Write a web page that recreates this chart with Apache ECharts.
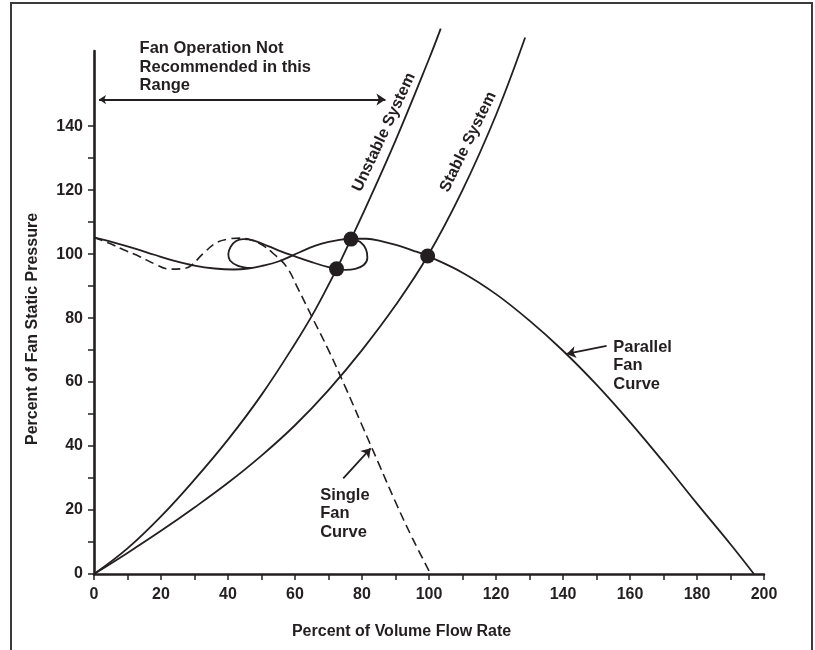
<!DOCTYPE html>
<html>
<head>
<meta charset="utf-8">
<script src="https://cdn.jsdelivr.net/npm/echarts@6/dist/echarts.min.js"></script>
<style>
html,body{margin:0;padding:0;background:#fff;}
#chart{width:815px;height:650px;}
</style>
</head>
<body>
<div id="chart"></div>
<script>
// ---- tick / label values ----
const xTickValues = [0,10,20,30,40,50,60,70,80,90,100,110,120,130,140,150,160,170,180,190,200];
const xLabelValues = [0,20,40,60,80,100,120,140,160,180,200];
const yTickValues = [0,10,20,30,40,50,60,70,80,90,100,110,120,130,140];
const yLabelValues = [0,20,40,60,80,100,120,140];

// ---- curves (x = % volume flow, y = % static pressure) ----
const parallelFanCurve = [
  [0,105.2],[6,103.6],[12,101.8],[18,99.8],[24,97.9],[30,96.4],[36,95.5],[41.6,95.2],
  [46,95.5],[50,96.3],[55,97.7],[59.5,99.7],[64,101.8],[68,103.3],[72.5,104.3],
  [76.7,104.8],[81.4,104.8],[86,104],[90.4,102.8],[95,101.2],[99.6,99.4],[110,94.2],
  [120,87.5],[130,79.2],[140,69.8],[150,59.2],[160,47.5],[170,35],[180,22],[190,9.3],[197,0]
];
const parallelLoops = [
  [47,95.6],[43,96.3],[40.6,98],[40.1,100],[40.8,102.3],[42.3,104],[44.5,104.7],
  [47.5,104.3],[52,102.5],[56,100.8],[60,99.3],[65,97.5],[70,95.9],[72.4,95.4],
  [75,95.1],[78,95.4],[80.5,96.6],[81.6,98.8],[81.2,101.5],[79.5,103.8],[77,104.8]
];
const singleFanCurve = [
  [0,105.2],[4.8,103.3],[9,101.3],[13.7,99.2],[18,97],[22.7,95.3],[26,95.4],[28.7,96.2],
  [32.6,100.2],[36.6,103.6],[40,104.7],[43.6,105],[47,104.4],[50,103],[53.5,100.2],
  [57.5,96],[61,89],[65,80.5],[70,70],[75,58.5],[80,46.5],[85,34.5],[90,22.5],[95,11.3],[100.5,0]
];
const unstableSystem = [
  [0,0],[10,8],[20,18],[30,29.5],[40,42],[50,56],[60,72],[66,82.5],[72.4,95.3],
  [76.7,104.7],[80,112],[90,135.5],[100,161],[103.5,170.5]
];
const stableSystem = [
  [0,0],[10,6.6],[20,13.5],[30,20.8],[40,28.5],[50,37],[60,46.5],[70,57.5],[80,70],
  [90,84],[99.6,99.4],[110,120],[120,143.5],[128.7,167.7]
];
const operatingPoints = [[72.4,95.4],[76.7,104.7],[99.6,99.4]];

// ---- annotations ----
const rotatedLabels = [
  {name:'Unstable System', value:[86.6,138.1], angle:65},
  {name:'Stable System', value:[111.7,135.1], angle:64}
];
const blockLabels = [
  {name:'Fan Operation Not\nRecommended in this\nRange', value:[13.6,158.4]},
  {name:'Parallel\nFan\nCurve', value:[155,65.1]},
  {name:'Single\nFan\nCurve', value:[67.5,18.8]}
];
const rangeArrow = [[1.5,148.3],[87,148.3]];
const pointerArrows = [
  [[153,71.3],[141.1,68.8]],
  [[74.4,29.9],[82.6,39.3]]
];

const INK = '#231f20';
const FONT = '"Liberation Sans", Arial, Helvetica, sans-serif';

const chart = echarts.init(document.getElementById('chart'), null, {renderer:'canvas'});

const curveStyle = {color:INK, width:1.8};

const option = {
  backgroundColor:'#fff',
  animation:false,
  grid:{left:94, top:51, width:670, height:523, containLabel:false},
  xAxis:{
    type:'value', min:0, max:200, interval:10,
    axisLine:{show:true, onZero:false, lineStyle:{color:INK, width:2.6}},
    axisTick:{show:true, length:6, lineStyle:{color:INK, width:1.5}, customValues:xTickValues},
    axisLabel:{color:INK, fontFamily:FONT, fontWeight:'bold', fontSize:16, margin:13, customValues:xLabelValues},
    splitLine:{show:false}
  },
  yAxis:{
    type:'value', min:0, max:163.5, interval:10,
    axisLine:{show:true, onZero:false, lineStyle:{color:INK, width:2.6}},
    axisTick:{show:true, length:6, lineStyle:{color:INK, width:1.5}, customValues:yTickValues},
    axisLabel:{color:INK, fontFamily:FONT, fontWeight:'bold', fontSize:16, margin:11, customValues:yLabelValues},
    splitLine:{show:false}
  },
  graphic:[
    {type:'polyline', silent:true, shape:{points:[[11,652],[11,3],[812,3],[812,652]]},
      style:{stroke:'#3a3a3a', lineWidth:2, fill:null}},
    {type:'text', x:401.6, y:631.7, silent:true,
      style:{text:'Percent of Volume Flow Rate', fill:INK, font:'bold 16px '+FONT, textAlign:'center', textVerticalAlign:'middle'}},
    {type:'text', x:33, y:329, rotation:Math.PI/2, silent:true,
      style:{text:'Percent of Fan Static Pressure', fill:INK, font:'bold 16px '+FONT, textAlign:'center', textVerticalAlign:'middle'}}
  ],
  series:[
    {type:'line', name:'Parallel Fan Curve', data:parallelFanCurve, smooth:0.4, showSymbol:false, symbol:'none', lineStyle:curveStyle, clip:false, z:3},
    {type:'line', name:'Parallel loops', data:parallelLoops, smooth:0.4, showSymbol:false, symbol:'none', lineStyle:curveStyle, clip:false, z:3},
    {type:'line', name:'Single Fan Curve', data:singleFanCurve, smooth:0.4, showSymbol:false, symbol:'none', lineStyle:{color:INK, width:1.6, type:[9,5]}, clip:false, z:3},
    {type:'line', name:'Unstable System', data:unstableSystem, smooth:0.4, showSymbol:false, symbol:'none', lineStyle:curveStyle, clip:false, z:3},
    {type:'line', name:'Stable System', data:stableSystem, smooth:0.4, showSymbol:false, symbol:'none', lineStyle:curveStyle, clip:false, z:3},
    {type:'scatter', name:'Operating points', data:operatingPoints, symbol:'circle', symbolSize:15, itemStyle:{color:INK, opacity:1}, z:5},
    {type:'scatter', name:'rotated labels', data:rotatedLabels.map(d=>({name:d.name, value:d.value,
        label:{rotate:d.angle}})), symbolSize:0, clip:false, z:6, itemStyle:{opacity:1},
      label:{show:true, position:'inside', formatter:'{b}', color:INK, opacity:1, fontFamily:FONT, fontWeight:'bold', fontSize:16, align:'center', verticalAlign:'middle'}},
    {type:'scatter', name:'block labels', data:blockLabels, symbolSize:0, clip:false, z:6, itemStyle:{opacity:1},
      label:{show:true, position:'right', distance:0, formatter:'{b}', color:INK, opacity:1, fontFamily:FONT, fontWeight:'bold', fontSize:16.5, lineHeight:18.5, align:'left', verticalAlign:'middle'}},
    {type:'lines', name:'range arrow', coordinateSystem:'cartesian2d', polyline:false,
      data:[{coords:rangeArrow}], symbol:['arrow','arrow'], symbolSize:[7,9],
      lineStyle:{color:INK, width:2, opacity:1}, z:4},
    {type:'lines', name:'pointer arrows', coordinateSystem:'cartesian2d', polyline:false,
      data:pointerArrows.map(c=>({coords:c})), symbol:['none','arrow'], symbolSize:[7,9],
      lineStyle:{color:INK, width:1.8, opacity:1}, z:4}
  ]
};
chart.setOption(option);
</script>
</body>
</html>
